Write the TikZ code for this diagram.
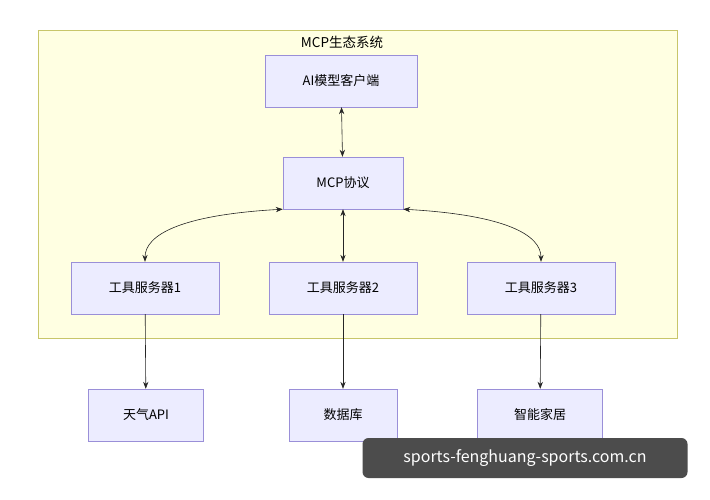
\documentclass[tikz,border=0pt]{standalone}
\usepackage{fontspec}
\setmainfont{Noto Sans CJK SC}
\usetikzlibrary{positioning,arrows.meta}
\definecolor{nodeline}{HTML}{9A8FD8}
\definecolor{nodefill}{HTML}{ECECFF}
\definecolor{frameline}{HTML}{C8C66A}
\definecolor{framefill}{HTML}{FFFFE2}
\tikzset{
  box/.style={draw=nodeline, fill=nodefill, minimum width=#1, minimum height=52pt, font=\fontsize{13}{15}\selectfont},
  box/.default=148pt,
  link/.style={-{Stealth[length=7pt]}, draw=black!85, semithick},
  both/.style={{Stealth[length=7pt]}-{Stealth[length=7pt]}, draw=black!85, semithick}
}
\begin{document}
\begin{tikzpicture}[x=1pt,y=-1pt]
  \useasboundingbox (0,0) rectangle (710,500);
  \fill[white] (0,0) rectangle (710,500);

  %% ecosystem frame
  \draw[draw=frameline, fill=framefill] (38,30) rectangle (677,338);
  \node (title) at (342,42) {\fontsize{13.5}{15}\selectfont MCP生态系统};

  %% nodes
  \node[box=152pt] (client) at (341,81) {AI模型客户端};
  \node[box=120pt] (mcp) at (343,183) {MCP协议};
  \node[box] (srvA) at (145,288) {工具服务器1};
  \node[box] (srvB) at (343,288) {工具服务器2};
  \node[box] (srvC) at (541,288) {工具服务器3};
  \node[box=115pt] (weather) at (146,415) {天气API};
  \node[box=108pt] (db) at (343,415) {数据库};
  \node[box=125pt] (home) at (540,415) {智能家居};

  %% connectors
  \draw[both] (client) -- (mcp);
  \draw[both] (mcp) -- (srvB);
  \draw[both] (mcp.south west) .. controls (180,215) and (145,235) .. (srvA.north);
  \draw[both] (mcp.south east) .. controls (506,215) and (541,235) .. (srvC.north);
  \draw[link] (srvA) -- (weather);
  \draw[link] (srvB) -- (db);
  \draw[link] (srvC) -- (home);

  %% watermark
  \node[fill=black!70, text=white, rounded corners=6pt, minimum width=325pt, minimum height=40pt,
        font=\fontsize{16}{18}\selectfont] (mark) at (525,458) {sports-fenghuang-sports.com.cn};
\end{tikzpicture}
\end{document}
